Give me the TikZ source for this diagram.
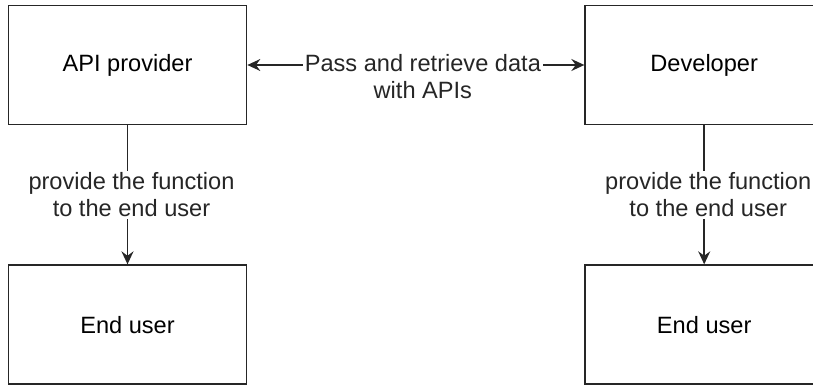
\documentclass[tikz,border=0pt]{standalone}
\usepackage{fontspec}
\setmainfont{Liberation Sans}
\usetikzlibrary{arrows.meta,positioning}

\begin{document}
\begin{tikzpicture}[
            x=0.5pt,y=-0.5pt,
            node distance=69.5pt,
            >={Stealth[length=6.5pt,width=6pt,inset=2.2pt]},
            line width=0.85pt
        ]
            \colorlet{linex}{black!85}
            \tikzset{
                box/.style={draw=linex,minimum width=119pt,minimum height=59.5pt,
                    font=\fontsize{11.8pt}{13.5pt}\selectfont},
                lbl/.style={fill=white,align=center,inner sep=1pt,
                    font=\fontsize{11.8pt}{13.5pt}\selectfont}
            }
            \clip (0,0) rectangle (813,385);

            % top row
            \node (prov) at (127.5,65) [box]     {API provider};
            \node (dev) [box,right=168.5pt of prov] {Developer};

            % bottom row
            \node (endl) [box,below=of prov] {End user};
            \node (endr) [box,below=of dev]  {End user};

            \draw [<->,linex] (prov) -- node[lbl,xshift=3.5pt,yshift=-6pt]
                {Pass and retrieve data\\with APIs} (dev);
            \draw [->,linex] (prov) -- node[lbl,xshift=2pt]
                {provide the function\\to the end user} (endl);
            \draw [->,linex] (dev) -- node[lbl,xshift=2pt]
                {provide the function\\to the end user} (endr);
        \end{tikzpicture}
\end{document}
